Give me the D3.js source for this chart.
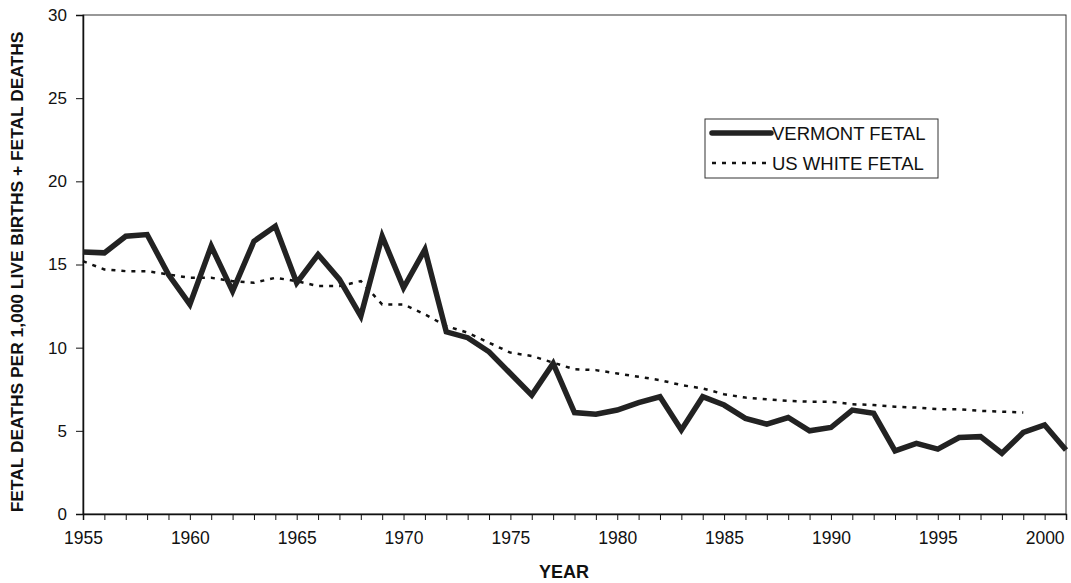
<!DOCTYPE html>
<html>
<head>
<meta charset="utf-8">
<script src="https://cdn.jsdelivr.net/npm/d3@7"></script>
<style>
  body { margin: 0; background: #fff; }
  text { font-family: "Liberation Sans", Arial, sans-serif; fill: #111; }
</style>
</head>
<body>
<svg id="chart" width="1071" height="583"></svg>
<script>
// Vermont fetal death ratio, 1955-2001
const vermontYears = d3.range(1955, 2002)
const vermontFetal = [
  15.75, 15.7, 16.7, 16.8, 14.4, 12.6, 16.1, 13.4, 16.4, 17.3,
  13.9, 15.6, 14.1, 11.9, 16.7, 13.6, 15.9, 10.95, 10.6, 9.75,
  8.45, 7.15, 9.05, 6.1, 6.0, 6.25, 6.7, 7.05, 5.05, 7.05,
  6.55, 5.75, 5.4, 5.8, 5.0, 5.2, 6.25, 6.05, 3.8, 4.25,
  3.9, 4.6, 4.65, 3.65, 4.9, 5.35, 3.85
]
// US white fetal death ratio, 1955-1999
const usYears = d3.range(1955, 2000)
const usWhiteFetal = [
  15.2, 14.7, 14.6, 14.6, 14.4, 14.2, 14.2, 14.0, 13.9, 14.2,
  14.0, 13.7, 13.7, 14.0, 12.6, 12.6, 12.0, 11.3, 10.9, 10.3,
  9.7, 9.5, 9.1, 8.7, 8.65, 8.45, 8.25, 8.05, 7.75, 7.55,
  7.2, 7.0, 6.9, 6.8, 6.75, 6.75, 6.6, 6.55, 6.45, 6.4,
  6.3, 6.3, 6.2, 6.15, 6.1
]
const yTicks = [0, 5, 10, 15, 20, 25, 30]
const xLabels = [1955, 1960, 1965, 1970, 1975, 1980, 1985, 1990, 1995, 2000]

const svg = d3.select('#chart')
const plotL = 83, plotR = 1066, plotT = 15, plotB = 514

const x = d3.scaleLinear().domain([1955, 2001]).range([plotL, plotR])
const y = d3.scaleLinear().domain([0, 30]).range([plotB, plotT])

// plot frame
svg.append('rect')
  .attr('x', plotL).attr('y', plotT)
  .attr('width', plotR - plotL).attr('height', plotB - plotT)
  .attr('fill', 'none').attr('stroke', '#333').attr('stroke-width', 1)

// y axis
const gy = svg.append('g').attr('transform', `translate(${plotL},0)`)
  .call(d3.axisLeft(y).tickValues(yTicks).tickSize(7).tickPadding(9))
gy.select('.domain').attr('stroke', '#111').attr('stroke-width', 1.5)
gy.selectAll('.tick line').attr('stroke', '#111')
gy.selectAll('.tick text').attr('font-size', 17).attr('fill', '#111')
  .attr('font-family', '"Liberation Sans", Arial, sans-serif')

// x axis: tick every year, labels every 5
const gx = svg.append('g').attr('transform', `translate(0,${plotB})`)
  .call(d3.axisBottom(x).tickValues(d3.range(1955, 2002)).tickSize(6)
    .tickFormat(d => xLabels.includes(d) ? d : '').tickPadding(12))
gx.select('.domain').attr('stroke', '#111').attr('stroke-width', 1.5)
gx.selectAll('.tick line').attr('stroke', '#111')
gx.selectAll('.tick text').attr('font-size', 17.5).attr('fill', '#111')
  .attr('font-family', '"Liberation Sans", Arial, sans-serif')

// axis titles
svg.append('text')
  .attr('x', 564).attr('y', 578)
  .attr('text-anchor', 'middle')
  .attr('font-size', 18).attr('font-weight', 'bold')
  .text('YEAR')

svg.append('text')
  .attr('transform', 'translate(23,272) rotate(-90)')
  .attr('text-anchor', 'middle')
  .attr('font-size', 17.4).attr('font-weight', 'bold')
  .text('FETAL DEATHS PER 1,000 LIVE BIRTHS + FETAL DEATHS')

// series
const line = d3.line().x(d => x(d[0])).y(d => y(d[1]))

svg.append('path')
  .attr('d', line(d3.zip(usYears, usWhiteFetal)))
  .attr('fill', 'none')
  .attr('stroke', '#111')
  .attr('stroke-width', 2.5)
  .attr('stroke-dasharray', '4,6')

svg.append('path')
  .attr('d', line(d3.zip(vermontYears, vermontFetal)))
  .attr('fill', 'none')
  .attr('stroke', '#222')
  .attr('stroke-width', 5.5)
  .attr('stroke-linejoin', 'miter')

// legend
const legend = svg.append('g').attr('transform', 'translate(705,119)')
legend.append('rect')
  .attr('width', 233).attr('height', 59)
  .attr('fill', '#fff').attr('stroke', '#333').attr('stroke-width', 1)
legend.append('line')
  .attr('x1', 7).attr('x2', 66).attr('y1', 14).attr('y2', 14)
  .attr('stroke', '#222').attr('stroke-width', 5.5).attr('stroke-linecap', 'round')
legend.append('text').attr('x', 67).attr('y', 21)
  .attr('font-size', 18.5).text('VERMONT FETAL')
legend.append('line')
  .attr('x1', 7).attr('x2', 66).attr('y1', 44).attr('y2', 44)
  .attr('stroke', '#111').attr('stroke-width', 2.5).attr('stroke-dasharray', '4,6')
legend.append('text').attr('x', 67).attr('y', 51)
  .attr('font-size', 18.5).text('US WHITE FETAL')
</script>
</body>
</html>
